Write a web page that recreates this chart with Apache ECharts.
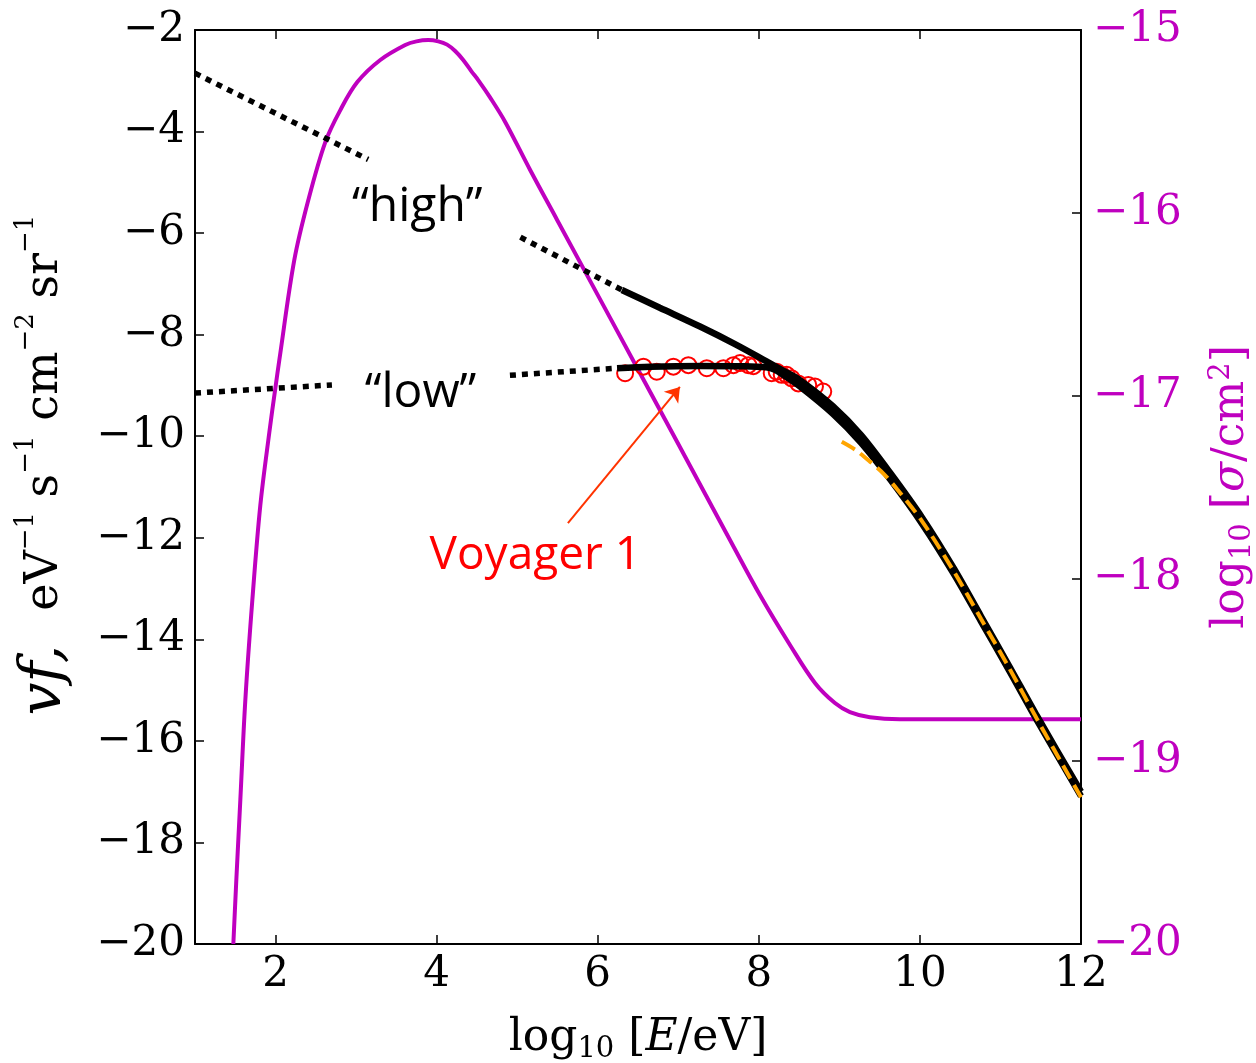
<!DOCTYPE html>
<html>
<head>
<meta charset="utf-8">
<title>Flux spectra and cross-section</title>
<script src="https://cdn.jsdelivr.net/npm/echarts@6/dist/echarts.min.js"></script>
<style>
  html, body { margin: 0; padding: 0; background: #ffffff; }
  #chart { width: 1256px; height: 1063px; }
</style>
</head>
<body>
<div id="chart"></div>
<script>
// ---- axis ticks ----
const energyTicks = [2, 4, 6, 8, 10, 12];

// ---- cross-section (right axis): log10 E vs log10 sigma ----
const sigmaE = [1.476, 1.513, 1.563, 1.625, 1.712, 1.811, 1.923, 1.998, 2.047, 2.233, 2.407, 2.618, 2.804, 3.015, 3.300, 3.610, 3.750, 3.896, 4.020, 4.130, 4.230, 4.330, 4.430, 4.516, 4.665, 4.851, 5.161, 5.496, 6.154, 6.960, 7.642, 8.014, 8.387, 8.697, 8.945, 9.131, 9.379, 9.751, 10.37, 12.0];
const sigmaLog = [-20.0, -19.65, -19.21, -18.665, -18.118, -17.60, -17.20, -16.958, -16.805, -16.258, -15.930, -15.613, -15.438, -15.285, -15.164, -15.082, -15.062, -15.055, -15.062, -15.080, -15.115, -15.164, -15.225, -15.274, -15.370, -15.503, -15.766, -16.039, -16.575, -17.232, -17.790, -18.091, -18.364, -18.572, -18.682, -18.731, -18.759, -18.770, -18.770, -18.770];

// ---- "high" spectrum: extrapolated (dotted) pieces and computed (solid) piece ----
const highDotAE = [1.0, 3.15];
const highDotAV = [-2.85, -4.55];
const highDotBE = [5.04, 6.30];
const highDotBV = [-6.08, -7.12];
const highE = [6.30, 6.77, 7.27, 7.71, 8.09, 8.30, 8.51, 8.92, 9.27, 9.63, 10.03, 10.42, 10.76, 11.11, 11.45, 12.0];
const highV = [-7.12, -7.47, -7.84, -8.19, -8.52, -8.705, -8.895, -9.41, -9.98, -10.72, -11.61, -12.60, -13.55, -14.53, -15.50, -17.00];

// ---- "low" spectrum ----
const lowDotAE = [1.0, 2.70];
const lowDotAV = [-9.15, -8.99];
const lowDotBE = [4.91, 6.24];
const lowDotBV = [-8.80, -8.66];
const lowE = [6.24, 6.65, 7.27, 7.77, 8.09, 8.20, 8.30, 8.51, 8.92, 9.27, 9.63, 10.03, 10.42, 10.76, 11.11, 11.45, 12.0];
const lowV = [-8.66, -8.63, -8.615, -8.62, -8.64, -8.69, -8.79, -9.02, -9.56, -10.13, -10.85, -11.73, -12.71, -13.65, -14.62, -15.585, -17.09];

// ---- high-energy power-law fit (orange dashed) ----
const fitE = [9.03, 9.20, 9.38, 9.55, 9.72, 10.03, 10.42, 10.76, 11.11, 11.45, 12.0];
const fitV = [-10.11, -10.27, -10.50, -10.74, -11.05, -11.68, -12.66, -13.60, -14.57, -15.56, -17.11];

// ---- Voyager 1 measurements ----
const voyagerE = [6.340, 6.567, 6.733, 6.939, 7.125, 7.354, 7.560, 7.684, 7.767, 7.870, 7.932, 8.160, 8.222, 8.284, 8.346, 8.408, 8.490, 8.614, 8.697, 8.800];
const voyagerV = [-8.76, -8.63, -8.73, -8.63, -8.60, -8.66, -8.66, -8.60, -8.56, -8.60, -8.62, -8.76, -8.73, -8.79, -8.79, -8.86, -8.96, -8.99, -9.02, -9.12];

// ---- annotations ----
const noteText = ['\u201Chigh\u201D', '\u201Clow\u201D'];
const noteE = [3.76, 3.80];
const noteV = [-5.50, -9.15];
const voyagerLabel = 'Voyager 1';
const voyagerLabelAt = [5.225, -12.36];
const arrowFrom = [5.63, -11.71];
const arrowTo = [7.02, -9.03];

const MAGENTA = '#BF00BF';
const SERIF = '"DejaVu Serif", "Liberation Serif", serif';
const SANS = '"Open Sans", "Noto Sans", sans-serif';

const zip = (xs, ys) => xs.map((x, i) => [x, ys[i]]);
const minus = v => String(v).replace('-', '\u2212');

const chart = echarts.init(document.getElementById('chart'), null, { renderer: 'canvas' });

const axisLineStyle = { color: '#000', width: 2 };
const tickStyle = { color: '#000', width: 1.5 };

const dotted = { color: '#000', width: 5.5, type: [6, 6], cap: 'butt' };
const solid = { color: '#000', width: 6.5 };

function lineSeries(name, data, style, extra) {
  return Object.assign({
    name: name,
    type: 'line',
    data: data,
    showSymbol: false,
    symbol: 'none',
    lineStyle: style,
    silent: true,
    z: 3
  }, extra || {});
}

const option = {
  animation: false,
  backgroundColor: '#ffffff',
  grid: { left: 195, right: 175, top: 30, bottom: 119, containLabel: false, outerBoundsMode: 'none' },
  xAxis: [
    {
      type: 'value', min: 1, max: 12, position: 'bottom',
      axisLine: { show: true, onZero: false, lineStyle: axisLineStyle },
      axisTick: { show: true, inside: true, length: 9, customValues: energyTicks, lineStyle: tickStyle },
      axisLabel: { show: true, customValues: energyTicks, formatter: minus, fontFamily: SERIF, fontSize: 42, color: '#000', margin: 10 },
      splitLine: { show: false },
      name: '{a|log}{s|10}{a| [}{i|E}{a|/eV]}',
      nameLocation: 'middle',
      nameGap: 70,
      nameTextStyle: {
        fontFamily: SERIF, fontSize: 44, color: '#000',
        rich: {
          a: { fontFamily: SERIF, fontSize: 44, lineHeight: 50, color: '#000' },
          s: { fontFamily: SERIF, fontSize: 29, lineHeight: 12, verticalAlign: 'bottom', color: '#000' },
          i: { fontFamily: SERIF, fontSize: 44, lineHeight: 50, fontStyle: 'italic', color: '#000' }
        }
      }
    },
    {
      type: 'value', min: 1, max: 12, position: 'top',
      axisLine: { show: true, onZero: false, lineStyle: axisLineStyle },
      axisTick: { show: true, inside: true, length: 9, customValues: energyTicks, lineStyle: tickStyle },
      axisLabel: { show: false },
      splitLine: { show: false }
    }
  ],
  yAxis: [
    {
      type: 'value', min: -20, max: -2, interval: 2, position: 'left',
      axisLine: { show: true, onZero: false, lineStyle: axisLineStyle },
      axisTick: { show: true, inside: true, length: 9, lineStyle: tickStyle },
      axisLabel: { show: true, formatter: minus, fontFamily: SERIF, fontSize: 42, color: '#000', margin: 10 },
      splitLine: { show: false },
      name: '{v|vf,}{g| }{a|eV}{p|\u22121}{a| s}{p|\u22121}{a| cm}{p|\u22122}{a| sr}{p|\u22121}',
      nameLocation: 'middle',
      nameGap: 118,
      nameTextStyle: {
        fontFamily: SERIF, fontSize: 46, color: '#000',
        padding: [0, 0, 0, 44],
        rich: {
          v: { fontFamily: SERIF, fontSize: 58, lineHeight: 64, fontStyle: 'italic', color: '#000' },
          g: { fontFamily: SERIF, fontSize: 46, lineHeight: 64, width: 34, color: '#000' },
          a: { fontFamily: SERIF, fontSize: 46, lineHeight: 64, color: '#000' },
          p: { fontFamily: SERIF, fontSize: 26, lineHeight: 16, verticalAlign: 'top', color: '#000' }
        }
      }
    },
    {
      type: 'value', min: -20, max: -15, interval: 1, position: 'right',
      axisLine: { show: true, onZero: false, lineStyle: axisLineStyle },
      axisTick: { show: true, inside: true, length: 9, lineStyle: tickStyle },
      axisLabel: { show: true, formatter: minus, fontFamily: SERIF, fontSize: 42, color: MAGENTA, margin: 12 },
      splitLine: { show: false },
      name: '{a|log}{s|10}{a| [}{i|\u03C3}{a|/cm}{p|2}{a|]}',
      nameLocation: 'middle',
      nameGap: 126,
      nameTextStyle: {
        fontFamily: SERIF, fontSize: 44, color: MAGENTA,
        rich: {
          a: { fontFamily: SERIF, fontSize: 44, lineHeight: 50, color: MAGENTA },
          s: { fontFamily: SERIF, fontSize: 29, lineHeight: 12, verticalAlign: 'bottom', color: MAGENTA },
          i: { fontFamily: SERIF, fontSize: 44, lineHeight: 50, fontStyle: 'italic', color: MAGENTA },
          p: { fontFamily: SERIF, fontSize: 29, lineHeight: 12, verticalAlign: 'top', color: MAGENTA }
        }
      }
    }
  ],
  series: [
    lineSeries('cross section', zip(sigmaE, sigmaLog), { color: MAGENTA, width: 4 }, { yAxisIndex: 1, smooth: 0.35, z: 1 }),
    {
      name: 'Voyager 1',
      type: 'scatter',
      data: zip(voyagerE, voyagerV),
      symbol: 'circle',
      symbolSize: 16,
      itemStyle: { color: 'rgba(255,255,255,0)', borderColor: '#FF0000', borderWidth: 2, opacity: 1 },
      silent: true,
      z: 2,
      markLine: {
        silent: true,
        animation: false,
        symbol: ['none', 'arrow'],
        symbolSize: 14,
        label: { show: false },
        lineStyle: { color: '#FF3300', width: 2, type: 'solid', opacity: 1 },
        data: [[{ coord: arrowFrom }, { coord: arrowTo }]]
      }
    },
    lineSeries('high extrapolated a', zip(highDotAE, highDotAV), dotted),
    lineSeries('high extrapolated b', zip(highDotBE, highDotBV), dotted),
    lineSeries('low extrapolated a', zip(lowDotAE, lowDotAV), dotted),
    lineSeries('low extrapolated b', zip(lowDotBE, lowDotBV), dotted),
    lineSeries('high', zip(highE, highV), solid, { smooth: 0.3 }),
    lineSeries('low', zip(lowE, lowV), solid, { smooth: 0.3 }),
    lineSeries('fit', zip(fitE, fitV), { color: '#FFA500', width: 4, type: [15, 7], cap: 'butt' }, { smooth: 0.3, z: 4 }),
    {
      name: 'notes',
      type: 'scatter',
      data: noteE.map((x, i) => [x, noteV[i], noteText[i]]),
      symbolSize: 0,
      silent: true,
      z: 5,
      itemStyle: { opacity: 1 },
      label: {
        show: true, position: 'inside', formatter: p => p.data[2],
        fontFamily: SANS, fontSize: 48, color: '#000', opacity: 1
      }
    },
    {
      name: 'voyager label',
      type: 'scatter',
      data: [[voyagerLabelAt[0], voyagerLabelAt[1], voyagerLabel]],
      symbolSize: 0,
      silent: true,
      z: 5,
      itemStyle: { opacity: 1 },
      label: {
        show: true, position: 'inside', formatter: p => p.data[2],
        fontFamily: SANS, fontSize: 46, color: '#FF0000', opacity: 1
      }
    }
  ]
};

chart.setOption(option);
</script>
</body>
</html>
